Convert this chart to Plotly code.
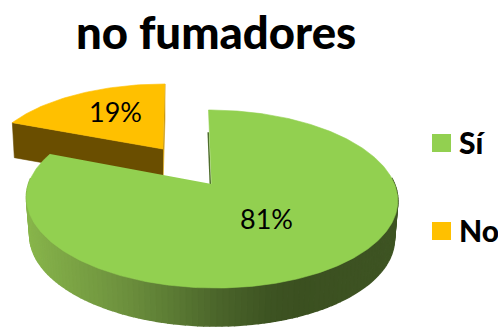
import numpy as np
import plotly.graph_objects as go

# Chart data
categories = ["Sí", "No"]
values = [81, 19]
labels = ["81%", "19%"]
title_text = "no fumadores"

GREEN = "#92D050"
ORANGE = "#FFC000"
BROWN = "#6A4E00"
SLIVER = "#CC9A10"
GREEN_EDGE = "#4F6E2D"

# Tilted-disc projection: unit circle to screen pixels with foreshortening
K = 0.1685


def project(u, v, x0, y0, ax, ay, skew=0.0):
    w = 1 + K * v
    return x0 + (ax * u + skew * v) / w, y0 - ay * v / w


def on_rim(theta):
    return np.sin(theta), np.cos(theta)


fractions = np.array(values) / sum(values)
cut = 2 * np.pi * fractions[0]

# Green slice runs clockwise from twelve o'clock, orange slice is pulled out
GREEN_DISC = dict(x0=211.5, y0=184, ax=183, ay=86.5, skew=-3.5)
ORANGE_DISC = dict(x0=163, y0=149, ax=173, ay=76, skew=2.3)
GREEN_DEPTH = 38
ORANGE_DEPTH = 35
BOTTOM_SCALE = 0.982

# Shading of the green wall, from the lit left side to the dark right side
wall_x = [20, 60, 120, 170, 220, 270, 300, 400]
wall_r = [138, 126, 110, 92, 74, 61, 59, 62]
wall_g = [184, 168, 146, 124, 100, 83, 80, 84]
wall_b = [76, 70, 62, 52, 42, 34, 32, 35]

fig = go.Figure()


def polygon(xs, ys, color, width=0.6):
    fig.add_trace(go.Scatter(
        x=list(xs), y=list(ys), mode="lines", fill="toself", fillcolor=color,
        line=dict(color=color, width=width), hoverinfo="skip", showlegend=False,
    ))


# Orange slice: faces behind the green disc
t_o = np.linspace(cut, 2 * np.pi, 50)
ou, ov = on_rim(t_o)
ox, oy = project(ou, ov, **ORANGE_DISC)
ax_o, ay_o = project(0.0, 0.0, **ORANGE_DISC)

polygon([ax_o, ox[-1], ox[-1], ax_o], [ay_o, oy[-1], oy[-1] + ORANGE_DEPTH, ay_o + ORANGE_DEPTH], SLIVER)
polygon([ax_o, ox[0], ox[0] + 2, ax_o], [ay_o, oy[0], oy[0] + ORANGE_DEPTH, ay_o + ORANGE_DEPTH], BROWN)
polygon(np.r_[ax_o, ox], np.r_[ay_o, oy], ORANGE)

# Green wall as a strip of overlapping shaded quads
t_g = np.linspace(0, cut, 361)
gu, gv = on_rim(t_g)
gx, gy = project(gu, gv, **GREEN_DISC)
ax_g, ay_g = project(0.0, 0.0, **GREEN_DISC)
cx_g = GREEN_DISC["x0"]
bx = cx_g + (gx - cx_g) * BOTTOM_SCALE
by = gy + GREEN_DEPTH

for i in np.arange(0, len(t_g) - 2, 2):
    j = i + 2
    if gv[i] > 0.05 and gv[j] > 0.05:
        continue
    mid = (gx[i] + gx[j]) / 2
    r = np.interp(mid, wall_x, wall_r)
    g = np.interp(mid, wall_x, wall_g)
    b = np.interp(mid, wall_x, wall_b)
    polygon([gx[i], gx[j], bx[j], bx[i]], [gy[i], gy[j], by[j], by[i]],
            f"rgb({r:.0f},{g:.0f},{b:.0f})", width=1.6)

# Thin edge of the cut face at twelve o'clock
edge_t = 0.7
fig.add_trace(go.Scatter(
    x=[ax_g - 1.2, ax_g + (gx[0] - ax_g) * edge_t - 1.2],
    y=[ay_g, ay_g + (gy[0] - ay_g) * edge_t],
    mode="lines", line=dict(color=GREEN_EDGE, width=1.5),
    hoverinfo="skip", showlegend=False,
))

# Green top face
polygon(np.r_[ax_g, gx], np.r_[ay_g, gy], GREEN)

# Percentage labels
annotations = [
    dict(x=266, y=218, text=labels[0], font=dict(family="Lato", size=27, color="black")),
    dict(x=115, y=111, text=labels[1], font=dict(family="Lato", size=27, color="black")),
    dict(x=215.5, y=31, text=title_text, font=dict(family="Lato", size=45.5, color="black", weight=900)),
]

# Legend entries
legend_y = [143, 231]
legend_colors = [GREEN, ORANGE]
shapes = []
for cat, ly, col in zip(categories, legend_y, legend_colors):
    shapes.append(dict(type="rect", x0=432, x1=451, y0=ly - 9, y1=ly + 9,
                       fillcolor=col, line=dict(width=0), layer="above"))
    annotations.append(dict(x=457, y=ly - 1, text=cat, xanchor="left",
                            font=dict(family="Lato", size=30, color="black", weight=900)))

for a in annotations:
    a.update(xref="x", yref="y", showarrow=False)
    a.setdefault("xanchor", "center")
    a.setdefault("yanchor", "middle")

fig.update_layout(
    width=498, height=327, margin=dict(l=0, r=0, t=0, b=0),
    paper_bgcolor="white", plot_bgcolor="white", showlegend=False,
    xaxis=dict(range=[0, 498], visible=False, fixedrange=True),
    yaxis=dict(range=[327, 0], visible=False, fixedrange=True),
    annotations=annotations, shapes=shapes,
)

fig.write_html("out.html", config=dict(displayModeBar=False))
